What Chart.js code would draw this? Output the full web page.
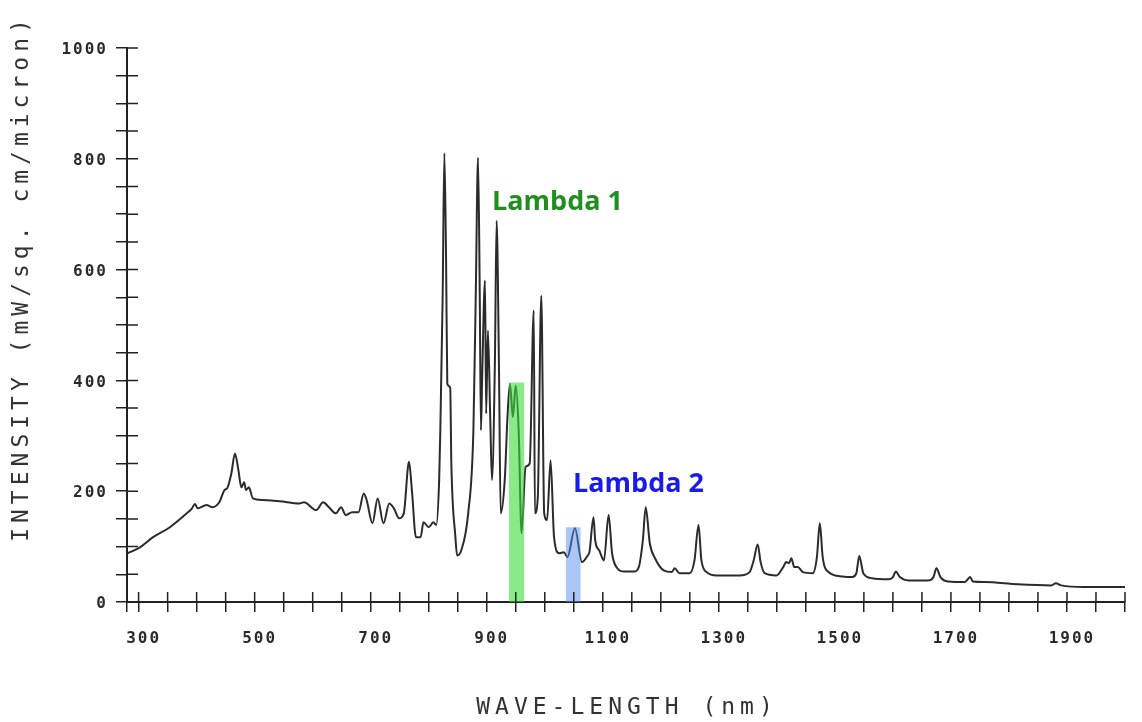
<!DOCTYPE html>
<html>
<head>
<meta charset="utf-8">
<title>Intensity vs wave-length</title>
<script src="https://cdn.jsdelivr.net/npm/chart.js@4/dist/chart.umd.min.js"></script>
<style>
  body { margin: 0; background: #fff; }
  canvas { display: block; }
</style>
</head>
<body>
<canvas id="spectrum" width="1142" height="722"></canvas>
<script>
// Spectrum (nm, mW/sq. cm/micron)
const wavelengths = [
  281, 303, 325, 354, 383, 392, 397, 402, 417, 427, 439, 448, 453, 460, 466, 472, 477, 482, 485, 490,
  497, 514, 543, 577, 585, 606, 618, 628, 640, 649, 657, 668, 679, 688, 693, 703, 712, 722, 732, 740,
  749, 757, 766, 771, 778, 786, 791, 800, 808, 813, 818, 820, 824, 827, 830, 832, 837, 839, 846, 849,
  856, 868, 877, 881, 885, 888, 890, 892, 897, 899, 902, 906, 909, 914, 917, 921, 924, 931, 936, 940,
  945, 950, 955, 960, 967, 974, 981, 983, 988, 994, 999, 1004, 1010, 1016, 1025, 1033, 1039, 1052, 1064, 1074,
  1077, 1084, 1087, 1094, 1102, 1110, 1116, 1125, 1137, 1154, 1162, 1169, 1174, 1181, 1190, 1205, 1219, 1224, 1232, 1250,
  1258, 1265, 1270, 1279, 1296, 1336, 1353, 1360, 1367, 1372, 1379, 1399, 1411, 1416, 1421, 1425, 1430, 1436, 1445, 1462,
  1469, 1474, 1479, 1489, 1513, 1530, 1537, 1542, 1549, 1564, 1592, 1600, 1605, 1612, 1627, 1661, 1670, 1675, 1682, 1695,
  1724, 1729, 1733, 1738, 1758, 1815, 1873, 1881, 1890, 1930, 2000
];
const intensity = [
  88, 99, 117, 135, 160, 169, 177, 169, 175, 171, 180, 202, 206, 233, 268, 238, 207, 216, 202, 207,
  187, 184, 182, 178, 180, 166, 180, 171, 160, 171, 157, 162, 162, 196, 184, 142, 187, 142, 178, 169,
  151, 160, 253, 202, 117, 117, 144, 135, 144, 139, 220, 310, 550, 810, 610, 394, 387, 250, 117, 84,
  93, 160, 310, 550, 802, 550, 310, 400, 580, 340, 490, 334, 220, 431, 688, 431, 160, 220, 340, 394,
  334, 391, 310, 124, 244, 250, 526, 160, 189, 553, 160, 148, 256, 117, 88, 90, 81, 133, 72, 84,
  90, 153, 111, 93, 75, 157, 88, 61, 55, 55, 63, 111, 171, 106, 79, 57, 54, 61, 52, 52,
  75, 139, 75, 54, 48, 48, 54, 75, 104, 72, 52, 48, 63, 72, 70, 79, 63, 63, 54, 52,
  81, 142, 81, 54, 46, 45, 52, 83, 52, 43, 41, 45, 55, 45, 39, 39, 45, 61, 45, 37,
  36, 41, 45, 37, 36, 32, 30, 34, 30, 27, 27
];

// Highlighted bands: [start nm, end nm] and band height
const lambda1Band = [938, 965];
const lambda1Top = 396;
const lambda2Band = [1036, 1062];
const lambda2Top = 135;

// Axis ticks: labelled values, marks every 50
const xLabels = [300, 500, 700, 900, 1100, 1300, 1500, 1700, 1900];
const yLabels = [0, 200, 400, 600, 800, 1000];
const xRange = [280, 2000];
const yRange = [0, 1000];
const minorStep = 50;

const xTitle = 'WAVE-LENGTH (nm)';
const yTitle = 'INTENSITY (mW/sq. cm/micron)';

function bandPoints(band, top) {
  return [
    { x: band[0], y: 0 }, { x: band[0], y: top },
    { x: band[1], y: top }, { x: band[1], y: 0 }
  ];
}

const tickFont = { family: '"DejaVu Sans Mono", monospace', size: 16, weight: 'bold' };

// Draw the tick marks across the axis (the inside half) and the captions
const plotterLook = {
  id: 'plotterLook',
  beforeDraw(chart) {
    chart.ctx.letterSpacing = '2px'; // spaced plotter digits
  },
  afterDraw(chart) {
    const { ctx, chartArea, scales: { x, y } } = chart;
    ctx.save();
    ctx.strokeStyle = '#222';
    ctx.lineWidth = 1.5;
    ctx.beginPath();
    x.ticks.forEach(t => {
      const px = x.getPixelForValue(t.value);
      ctx.moveTo(px, chartArea.bottom);
      ctx.lineTo(px, chartArea.bottom - 10);
    });
    y.ticks.forEach(t => {
      const py = y.getPixelForValue(t.value);
      ctx.moveTo(chartArea.left, py);
      ctx.lineTo(chartArea.left + 11, py);
    });
    ctx.stroke();

    // axis titles
    ctx.fillStyle = '#333';
    ctx.letterSpacing = '5px';
    ctx.font = '23px "DejaVu Sans Mono", monospace';
    ctx.textAlign = 'center';
    ctx.textBaseline = 'middle';
    ctx.fillText(xTitle, 627, 708);
    ctx.save();
    ctx.translate(22, 278);
    ctx.rotate(-Math.PI / 2);
    ctx.fillText(yTitle, 0, 0);
    ctx.restore();

    // band labels
    ctx.letterSpacing = '0px';
    ctx.textAlign = 'left';
    ctx.textBaseline = 'alphabetic';
    ctx.font = 'bold 27px "Open Sans", sans-serif';
    ctx.fillStyle = '#1f8f1f';
    ctx.fillText('Lambda 1', 492, 210);
    ctx.fillStyle = '#1a1aeb';
    ctx.fillText('Lambda 2', 573, 492);
    ctx.restore();
    ctx.letterSpacing = '0px';
  }
};

function stepTicks(range) {
  const ticks = [{ value: range[0] }];
  for (let v = Math.ceil(range[0] / minorStep) * minorStep; v <= range[1]; v += minorStep) {
    if (v !== range[0]) ticks.push({ value: v });
  }
  return ticks;
}

const ctx = document.getElementById('spectrum').getContext('2d');
const spectrumChart = new Chart(ctx, {
  type: 'line',
  data: {
    datasets: [
      {
        label: 'Lambda 1',
        data: bandPoints(lambda1Band, lambda1Top),
        backgroundColor: 'rgba(60, 220, 60, 0.6)',
        borderWidth: 0,
        pointRadius: 0,
        tension: 0,
        fill: 'origin',
        order: 0
      },
      {
        label: 'Lambda 2',
        data: bandPoints(lambda2Band, lambda2Top),
        backgroundColor: 'rgba(90, 140, 240, 0.5)',
        borderWidth: 0,
        pointRadius: 0,
        tension: 0,
        fill: 'origin',
        order: 0
      },
      {
        label: 'Intensity',
        data: wavelengths.map((w, i) => ({ x: w, y: intensity[i] })),
        borderColor: '#2b2b2b',
        borderWidth: 2,
        pointRadius: 0,
        cubicInterpolationMode: 'monotone',
        fill: false,
        order: 1
      }
    ]
  },
  options: {
    responsive: false,
    animation: false,
    layout: { padding: { top: 48, right: 10, left: 0, bottom: 0 } },
    plugins: {
      legend: { display: false },
      tooltip: { enabled: false }
    },
    scales: {
      x: {
        type: 'linear',
        min: xRange[0],
        max: xRange[1],
        afterFit: (scale) => { scale.height = 120; },
        afterBuildTicks: (scale) => { scale.ticks = stepTicks(xRange); },
        border: { color: '#222', width: 2 },
        grid: { drawOnChartArea: false, drawTicks: true, tickLength: 10, color: '#222', lineWidth: 1.5 },
        ticks: {
          autoSkip: false,
          maxRotation: 0,
          padding: 17,
          labelOffset: 5,
          color: '#2a2a2a',
          font: tickFont,
          callback: (v) => (xLabels.includes(v) ? v : '')
        }
      },
      y: {
        min: yRange[0],
        max: yRange[1],
        afterFit: (scale) => { scale.width = 127; },
        afterBuildTicks: (scale) => { scale.ticks = stepTicks(yRange); },
        border: { color: '#222', width: 2 },
        grid: { drawOnChartArea: false, drawTicks: true, tickLength: 11, color: '#222', lineWidth: 1.5 },
        ticks: {
          autoSkip: false,
          padding: 8,
          labelOffset: 2,
          color: '#2a2a2a',
          font: tickFont,
          callback: (v) => (yLabels.includes(v) ? v : '')
        }
      }
    }
  },
  plugins: [plotterLook]
});
</script>
</body>
</html>
